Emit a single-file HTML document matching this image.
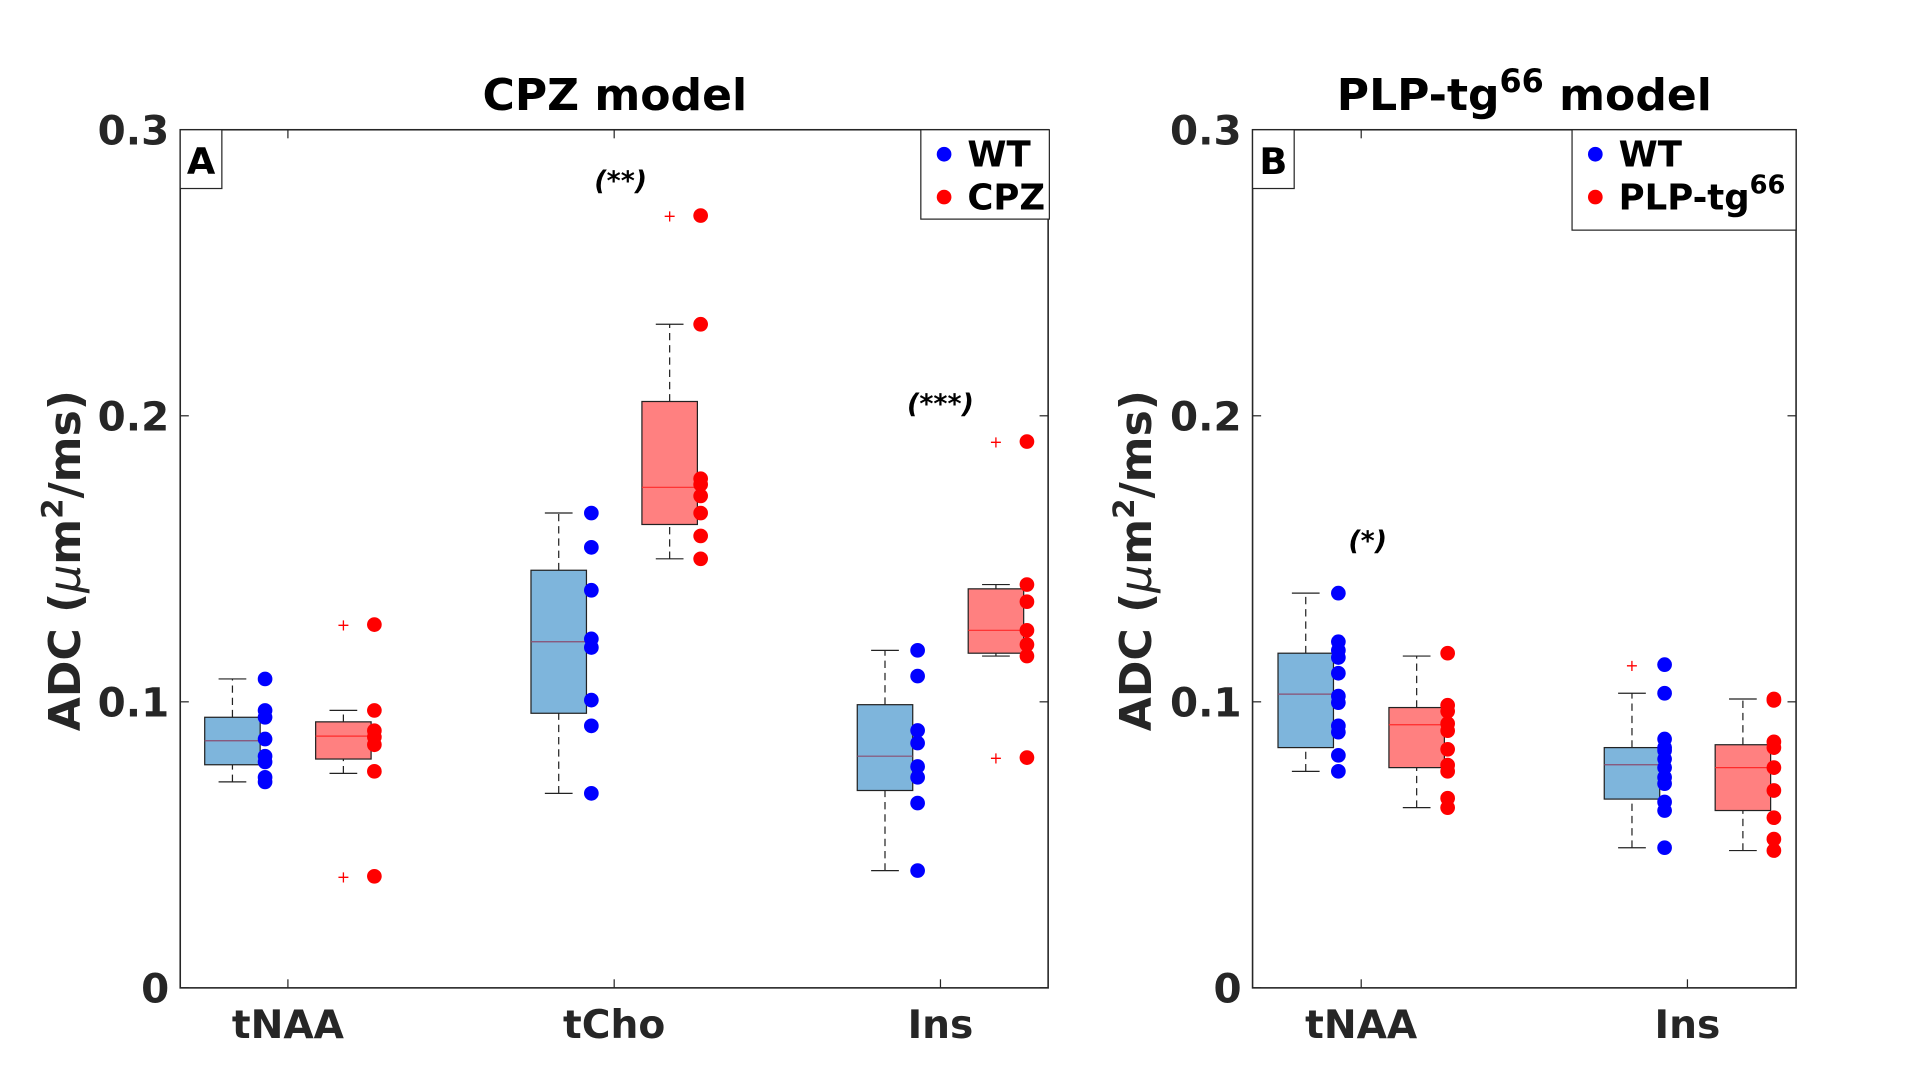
<!DOCTYPE html>
<html><head><meta charset="utf-8"><style>
html,body{margin:0;padding:0;background:#fff}
svg{display:block}
text{font-family:"DejaVu Sans","Liberation Sans",sans-serif;font-weight:bold;fill:#262626}
</style></head><body>
<svg id="fig" width="1920" height="1076" viewBox="0 0 1568 879" xmlns="http://www.w3.org/2000/svg"></svg>
<script>
// ---- data ----
const yTicks = [0, 0.1, 0.2, 0.3];
const yTickLabels = ["0", "0.1", "0.2", "0.3"];
const catsA = ["tNAA", "tCho", "Ins"];
const catsB = ["tNAA", "Ins"];
// box stats: [whiskerLow, q1, median, q3, whiskerHigh]
const boxA_WT = [[0.072,0.078,0.0864,0.0946,0.108],[0.068,0.096,0.121,0.146,0.166],[0.041,0.069,0.081,0.099,0.118]];
const boxA_CPZ = [[0.075,0.080,0.088,0.093,0.097],[0.150,0.162,0.175,0.205,0.232],[0.116,0.117,0.125,0.1395,0.141]];
const outA_CPZ = [[0.127,0.039],[0.270],[0.191,0.0805]];
const dotsA_WT = [[0.108,0.097,0.0946,0.087,0.081,0.079,0.0736,0.072],[0.166,0.154,0.139,0.122,0.119,0.1006,0.0916,0.068],[0.118,0.109,0.090,0.0856,0.0774,0.0736,0.0646,0.041]];
const dotsA_CPZ = [[0.127,0.097,0.0899,0.0877,0.085,0.0757,0.039],[0.270,0.232,0.178,0.176,0.172,0.166,0.158,0.150],[0.191,0.141,0.135,0.125,0.120,0.116,0.0805]];
const boxB_WT = [[0.0757,0.084,0.1027,0.117,0.138],[0.049,0.066,0.078,0.084,0.103]];
const boxB_PLP = [[0.063,0.077,0.092,0.098,0.116],[0.048,0.062,0.077,0.085,0.101]];
const outB_WT = [[],[0.113]];
const dotsB_WT = [[0.138,0.121,0.118,0.1155,0.110,0.102,0.0997,0.0916,0.0894,0.0813,0.0757],[0.113,0.103,0.087,0.084,0.083,0.080,0.077,0.0736,0.0714,0.065,0.062,0.049]];
const dotsB_PLP = [[0.117,0.0988,0.0967,0.0924,0.0899,0.0834,0.0779,0.0757,0.0663,0.063],[0.101,0.1005,0.086,0.084,0.077,0.069,0.0595,0.052,0.048]];
const sigA = [["(**)",2.02,0.279],["(***)",3.0,0.201]];
const sigB = [["(*)",1.02,0.153]];

const NS="http://www.w3.org/2000/svg";
const svg=document.getElementById('fig');
function mk(tag,attrs,parent,txt){const e=document.createElementNS(NS,tag);for(const k in attrs)e.setAttribute(k,attrs[k]);if(txt!==undefined)e.textContent=txt;(parent||svg).appendChild(e);return e;}
const Y0=807,Y1=106;
const yS=v=>Y0+(Y1-Y0)*v/0.3;

function panel(x0,x1,xmin,xmax,cats,bWT,bT,oWT,oT,dWT,dT,sig,letter,id){
  const g=mk('g',{});
  
  
  const xS=v=>x0+(x1-x0)*(v-xmin)/(xmax-xmin);
  mk('rect',{x:x0,y:Y1,width:x1-x0,height:Y0-Y1,fill:'#fff',stroke:'#262626','stroke-width':1.3},g);
  yTicks.forEach((t,i)=>{
    mk('line',{x1:x0,x2:x0+7,y1:yS(t),y2:yS(t),stroke:'#262626'},g);
    mk('line',{x1:x1,x2:x1-7,y1:yS(t),y2:yS(t),stroke:'#262626'},g);
    const tl=mk('text',{x:x0-9,y:yS(t)+12,'text-anchor':'end','font-size':33},g,yTickLabels[i]);
    
    
  });
  cats.forEach((c,i)=>{
    const x=xS(i+1);
    mk('line',{x1:x,x2:x,y1:Y0,y2:Y0-7,stroke:'#262626'},g);
    mk('line',{x1:x,x2:x,y1:Y1,y2:Y1+7,stroke:'#262626'},g);
    const tl=mk('text',{x:x,y:848,'text-anchor':'middle','font-size':32},g,c);
    
    
  });
  const w=0.17*(x1-x0)/(xmax-xmin);
  function box(s,cx,fill,med,name){
    const bg=mk('g',{},g);
    
    
    mk('line',{x1:cx,x2:cx,y1:yS(s[0]),y2:yS(s[1]),stroke:'#222','stroke-dasharray':'6,4'},bg);
    mk('line',{x1:cx,x2:cx,y1:yS(s[3]),y2:yS(s[4]),stroke:'#222','stroke-dasharray':'6,4'},bg);
    mk('line',{x1:cx-w/4,x2:cx+w/4,y1:yS(s[0]),y2:yS(s[0]),stroke:'#222'},bg);
    mk('line',{x1:cx-w/4,x2:cx+w/4,y1:yS(s[4]),y2:yS(s[4]),stroke:'#222'},bg);
    mk('rect',{x:cx-w/2,y:yS(s[3]),width:w,height:yS(s[1])-yS(s[3]),fill:fill,stroke:'#222','stroke-width':1},bg);
    mk('line',{x1:cx-w/2,x2:cx+w/2,y1:yS(s[2]),y2:yS(s[2]),stroke:med,'stroke-width':1},bg);
  }
  cats.forEach((c,i)=>{
    const cw=xS(i+1-0.17), ct=xS(i+1+0.17);
    box(bWT[i],cw,'#7eb5dc','#8a4e72','box-wt-'+c);
    box(bT[i],ct,'#ff8080','#ff2a2a','box-treat-'+c);
    oWT[i].forEach(v=>{const o=mk('text',{x:cw,y:yS(v)+5,'text-anchor':'middle','font-size':13,style:'fill:#f00;font-weight:normal'},g,'+');});
    oT[i].forEach(v=>{const o=mk('text',{x:ct,y:yS(v)+5,'text-anchor':'middle','font-size':13,style:'fill:#f00;font-weight:normal'},g,'+');});
    dWT[i].forEach(v=>{const d=mk('circle',{cx:xS(i+1-0.07),cy:yS(v),r:6,fill:'#0000ff'},g);});
    dT[i].forEach(v=>{const d=mk('circle',{cx:xS(i+1+0.265),cy:yS(v),r:6,fill:'#ff0000'},g);});
  });
  sig.forEach(s=>{const t=mk('text',{x:xS(s[1]),y:yS(s[2]),'text-anchor':'middle','font-size':22,'font-style':'italic',style:'fill:#000'},g,s[0]);});
  mk('rect',{x:x0,y:Y1,width:34,height:48,fill:'#fff',stroke:'#262626'},g);
  const lt=mk('text',{x:x0+17,y:Y1+36,'text-anchor':'middle','font-size':30,style:'fill:#000'},g,letter);
  
}
panel(147,856,0.67,3.33,catsA,boxA_WT,boxA_CPZ,[[],[],[]],outA_CPZ,dotsA_WT,dotsA_CPZ,sigA,'A','panel-a');
panel(1023,1467,0.667,2.333,catsB,boxB_WT,boxB_PLP,outB_WT,[[],[]],dotsB_WT,dotsB_PLP,sigB,'B','panel-b');

// titles
let t=mk('text',{x:502,y:90,'text-anchor':'middle','font-size':36,style:'fill:#000'},svg,'CPZ model');

t=mk('text',{x:1245,y:90,'text-anchor':'middle','font-size':36,style:'fill:#000'});

t.innerHTML='PLP-tg<tspan dy="-15" font-size="26">66</tspan><tspan dy="15"> model</tspan>';
// y labels
[[53,'y-axis-title-a'],[928,'y-axis-title-b']].forEach(([x,n])=>{
  const yl=mk('text',{transform:`translate(${x+12},458) rotate(-90)`,'text-anchor':'middle','font-size':36,style:'fill:#262626'});
  
  yl.innerHTML='ADC (<tspan font-style="italic" font-weight="normal">μ</tspan>m<tspan dy="-14" font-size="24">2</tspan><tspan dy="14">/ms)</tspan>';
});
// legends
function legend(x,y,w,h,labels,sup){
  const g=mk('g',{});
  
  
  mk('rect',{x:x,y:y,width:w,height:h,fill:'#fff',stroke:'#262626'},g);
  labels.forEach((l,i)=>{
    const cy=y+20+i*35;
    mk('circle',{cx:x+19,cy:cy,r:6,fill:i?'#ff0000':'#0000ff'},g);
    const tt=mk('text',{x:x+38,y:cy+10,'font-size':29,style:'fill:#000'},g);
    
    tt.innerHTML=l+((i&&sup)?'<tspan dy="-13" font-size="21">66</tspan>':'');
  });
}
legend(752,106,105,73,['WT','CPZ'],false);
legend(1284,106,183,82,['WT','PLP-tg'],true);
</script>
</body></html>
